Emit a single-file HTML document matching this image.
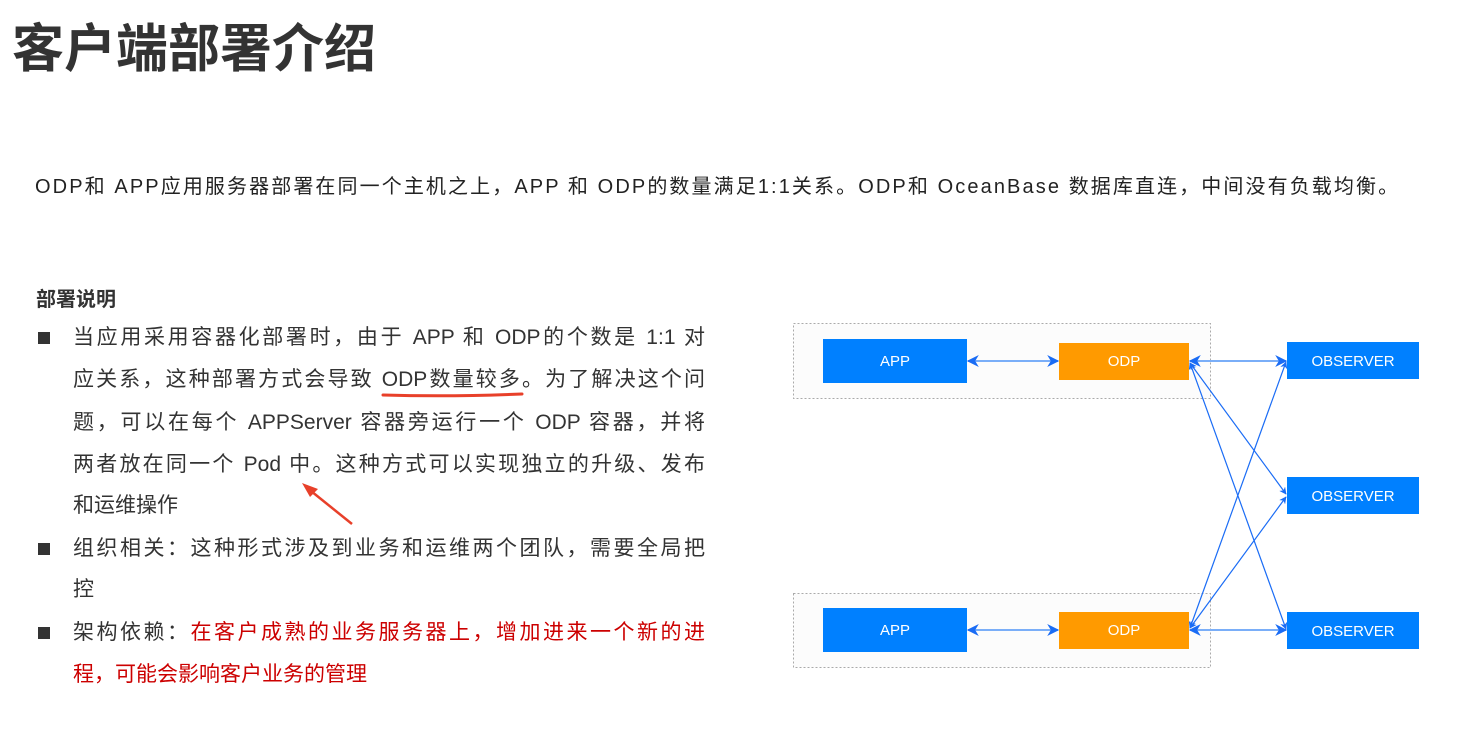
<!DOCTYPE html>
<html><head><meta charset="utf-8"><style>
body{margin:0;width:1464px;height:740px;background:#fff;position:relative;overflow:hidden;font-family:"Liberation Sans","Noto Sans CJK SC",sans-serif;color:#222}
.a{position:absolute;white-space:nowrap}
.t{left:12px;top:7px;font-size:52px;font-weight:bold;color:#333;letter-spacing:0px}
.s{left:35px;top:170px;font-size:20px;color:#222;letter-spacing:2.1px}
.h{left:36px;top:283px;font-size:20px;font-weight:bold;color:#333}
.l{position:absolute;left:73px;width:632px;font-size:21px;line-height:28px;text-align:justify;text-align-last:justify;white-space:nowrap;color:#333}
.l.n{text-align-last:left}
.b{position:absolute;left:38px;width:12px;height:12px;background:#333}
.r{color:#c00}
</style></head><body>
<div class="a t">客户端部署介绍</div>
<div class="a s">ODP和 APP应用服务器部署在同一个主机之上，APP 和 ODP的数量满足1:1关系。ODP和 OceanBase 数据库直连，中间没有负载均衡。</div>
<div class="a h">部署说明</div>
<div class="b" style="top:332px"></div>
<div class="l" style="top:324px">当应用采用容器化部署时，由于 APP 和 ODP的个数是 1:1 对</div>
<div class="l" style="top:366px">应关系，这种部署方式会导致 ODP数量较多。为了解决这个问</div>
<div class="l" style="top:409px">题，可以在每个 APPServer 容器旁运行一个 ODP 容器，并将</div>
<div class="l" style="top:451px">两者放在同一个 Pod 中。这种方式可以实现独立的升级、发布</div>
<div class="l n" style="top:492px">和运维操作</div>
<div class="b" style="top:543px"></div>
<div class="l" style="top:535px">组织相关：这种形式涉及到业务和运维两个团队，需要全局把</div>
<div class="l n" style="top:576px">控</div>
<div class="b" style="top:627px"></div>
<div class="l" style="top:619px">架构依赖：<span class="r">在客户成熟的业务服务器上，增加进来一个新的进</span></div>
<div class="l n r" style="top:661px">程，可能会影响客户业务的管理</div>
<svg width="1464" height="740" style="position:absolute;left:0;top:0">
<defs><marker id="m" viewBox="0 0 10 10" refX="9" refY="5" markerWidth="6" markerHeight="6" orient="auto-start-reverse"><path d="M0,0L10,5L0,10L3,5z" fill="#1a6cf5"/></marker></defs>
<path d="M383,395 Q450,397 522,394" stroke="#e8402a" stroke-width="3" fill="none" stroke-linecap="round"/>
<path d="M352,524 L306,487" stroke="#e8402a" stroke-width="2.5"/>
<path d="M302,483 L318,489 L310,497z" fill="#e8402a"/>
<rect x="793.5" y="323.5" width="417" height="75" fill="#fcfcfc" stroke="#aaa" stroke-dasharray="2,2"/>
<rect x="793.5" y="593.5" width="417" height="74" fill="#fcfcfc" stroke="#aaa" stroke-dasharray="2,2"/>
<g stroke="#1a6cf5" stroke-width="1.2" fill="none" marker-start="url(#m)" marker-end="url(#m)">
<line x1="968" y1="361" x2="1058" y2="361" stroke="#7aaef8" stroke-width="2"/>
<line x1="968" y1="630" x2="1058" y2="630" stroke="#7aaef8" stroke-width="2"/>
<line x1="1190" y1="361" x2="1286" y2="361" stroke="#7aaef8" stroke-width="2"/>
<line x1="1190" y1="630" x2="1286" y2="630" stroke="#7aaef8" stroke-width="2"/>
<line x1="1190" y1="363" x2="1286" y2="494"/>
<line x1="1190" y1="363" x2="1286" y2="629"/>
<line x1="1190" y1="628" x2="1286" y2="362"/>
<line x1="1190" y1="628" x2="1286" y2="497"/>
</g>
<g font-family="Liberation Sans, sans-serif" font-size="15" fill="#fff" text-anchor="middle">
<rect x="823" y="339" width="144" height="44" fill="#0080ff"/><text x="895" y="366">APP</text>
<rect x="1059" y="343" width="130" height="37" fill="#ff9a00"/><text x="1124" y="366">ODP</text>
<rect x="823" y="608" width="144" height="44" fill="#0080ff"/><text x="895" y="635">APP</text>
<rect x="1059" y="612" width="130" height="37" fill="#ff9a00"/><text x="1124" y="635">ODP</text>
<rect x="1287" y="342" width="132" height="37" fill="#0080ff"/><text x="1353" y="366">OBSERVER</text>
<rect x="1287" y="477" width="132" height="37" fill="#0080ff"/><text x="1353" y="501">OBSERVER</text>
<rect x="1287" y="612" width="132" height="37" fill="#0080ff"/><text x="1353" y="636">OBSERVER</text>
</g>
</svg>
</body></html>
